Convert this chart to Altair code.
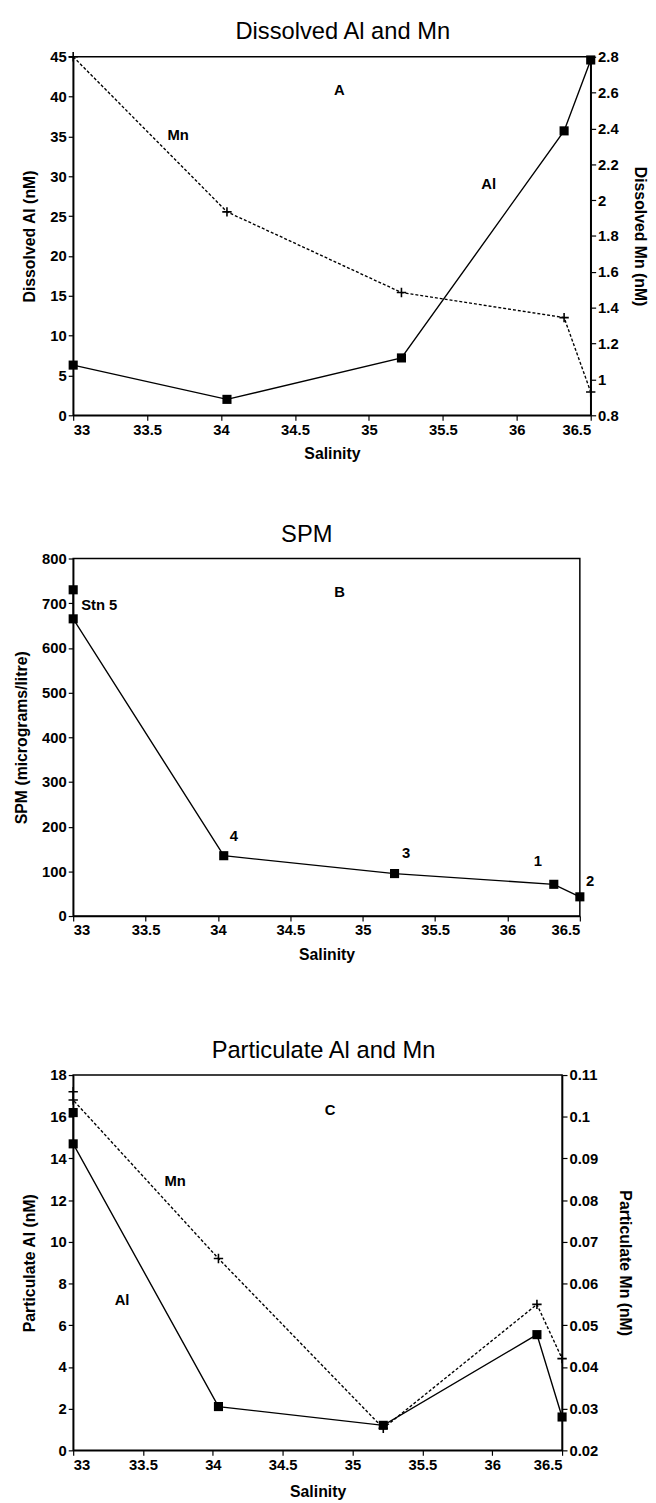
import altair as alt
import pandas as pd

FONT = "Liberation Sans"

# ---------------- data ----------------
# Panel A: dissolved Al and Mn
a_sal = [33.0, 34.04, 35.22, 36.32, 36.5]
a_al = [6.3, 2.0, 7.2, 35.7, 44.6]
a_mn = [2.8, 1.935, 1.485, 1.345, 0.93]

# Panel B: SPM
b_sal = [33.0, 33.0, 34.04, 35.22, 36.32, 36.5]
b_spm = [730, 665, 135, 95, 71, 43]

# Panel C: particulate Al and Mn
c_sal = [33.0, 33.0, 34.04, 35.22, 36.32, 36.5]
c_al = [16.2, 14.7, 2.1, 1.2, 5.55, 1.6]
c_mn = [0.106, 0.104, 0.066, 0.0253, 0.055, 0.042]

# annotation labels (text, salinity, y on left scale)
a_lab_text = ["A", "Mn", "Al"]
a_lab_x = [34.80, 33.71, 35.81]
a_lab_y = [40.8, 35.2, 29.0]

b_lab_text = ["B", "Stn 5", "4", "3", "1", "2"]
b_lab_x = [34.84, 33.18, 34.11, 35.30, 36.21, 36.57]
b_lab_y = [725, 696, 179, 141, 123, 79]

c_lab_text = ["C", "Mn", "Al"]
c_lab_x = [34.84, 33.73, 33.35]
c_lab_y = [16.3, 12.9, 7.2]

x_ticks = [33, 33.5, 34, 34.5, 35, 35.5, 36, 36.5]
a_left_ticks = list(range(0, 50, 5))
a_right_ticks = [0.8, 1.0, 1.2, 1.4, 1.6, 1.8, 2.0, 2.2, 2.4, 2.6, 2.8]
b_left_ticks = list(range(0, 900, 100))
c_left_ticks = list(range(0, 20, 2))
c_right_ticks = [0.02, 0.03, 0.04, 0.05, 0.06, 0.07, 0.08, 0.09, 0.10, 0.11]

PLUS = "M-1,0H1M0,-1V1"
LBL = "format(datum.value, '.2~f')"


def xenc(title_pad):
    return alt.X(
        "sal:Q",
        scale=alt.Scale(domain=[33, 36.5], nice=False, zero=False),
        axis=alt.Axis(values=x_ticks, title="Salinity", labelExpr=LBL,
                      titlePadding=title_pad),
    )


def yenc(field, domain, ticks, title, orient, title_pad):
    return alt.Y(
        f"{field}:Q",
        scale=alt.Scale(domain=domain, nice=False, zero=False),
        axis=alt.Axis(values=ticks, title=title, orient=orient, labelExpr=LBL,
                      titlePadding=title_pad),
    )


def solid_series(df, field, domain, ticks, title, xpad, ypad):
    base = alt.Chart(df).encode(
        x=xenc(xpad),
        y=yenc(field, domain, ticks, title, "left", ypad),
        order="i:O",
    )
    line = base.mark_line(color="black", strokeWidth=1.4)
    pts = base.mark_point(shape="square", filled=True, color="black", size=85, opacity=1)
    return line + pts


def dashed_series(df, field, domain, ticks, title, xpad, ypad):
    base = alt.Chart(df).encode(
        x=xenc(xpad),
        y=yenc(field, domain, ticks, title, "right", ypad),
        order="i:O",
    )
    line = base.mark_line(color="black", strokeWidth=1.4, strokeDash=[3, 2])
    pts = base.mark_point(shape=PLUS, filled=False, color="black", size=90,
                          strokeWidth=1.6, opacity=1)
    return line + pts


def labels(texts, xs, ys, field, domain, ticks, title, xpad, ypad, align="center"):
    df = pd.DataFrame({"t": texts, "sal": xs, field: ys})
    return alt.Chart(df).mark_text(
        font=FONT, fontSize=15, fontWeight="bold", color="black", align=align,
        baseline="middle",
    ).encode(
        x=xenc(xpad),
        y=yenc(field, domain, ticks, title, "left", ypad),
        text="t:N",
    )


# ---------------- panel A ----------------
dfa_al = pd.DataFrame({"sal": a_sal, "v": a_al, "i": range(len(a_sal))})
dfa_mn = pd.DataFrame({"sal": a_sal, "m": a_mn, "i": range(len(a_sal))})
A_left = alt.layer(
    solid_series(dfa_al, "v", [0, 45], a_left_ticks, "Dissolved Al (nM)", 9, 12),
    labels(a_lab_text, a_lab_x, a_lab_y, "v", [0, 45], a_left_ticks,
           "Dissolved Al (nM)", 9, 12),
)
A_right = dashed_series(dfa_mn, "m", [0.8, 2.8], a_right_ticks, "Dissolved Mn (nM)", 9, 13)
panelA = alt.layer(A_left, A_right).resolve_scale(y="independent").properties(
    width=524, height=363,
    title=alt.TitleParams("Dissolved Al and Mn", dx=11),
)

# ---------------- panel B ----------------
dfb = pd.DataFrame({"sal": b_sal, "v": b_spm, "i": range(len(b_sal))})
B_main = solid_series(dfb, "v", [0, 800], b_left_ticks, "SPM (micrograms/litre)", 9, 12)
B_lab = labels(b_lab_text, b_lab_x, b_lab_y, "v", [0, 800], b_left_ticks,
               "SPM (micrograms/litre)", 9, 12)
panelB = alt.layer(B_main, B_lab).properties(
    width=513, height=362,
    title=alt.TitleParams("SPM", dx=-20),
)

# ---------------- panel C ----------------
dfc_al = pd.DataFrame({"sal": c_sal, "v": c_al, "i": range(len(c_sal))})
dfc_mn = pd.DataFrame({"sal": c_sal, "m": c_mn, "i": range(len(c_sal))})
C_left = alt.layer(
    solid_series(dfc_al, "v", [0, 18], c_left_ticks, "Particulate Al (nM)", 12, 12),
    labels(c_lab_text, c_lab_x, c_lab_y, "v", [0, 18], c_left_ticks,
           "Particulate Al (nM)", 12, 12),
)
C_right = dashed_series(dfc_mn, "m", [0.02, 0.11], c_right_ticks,
                        "Particulate Mn (nM)", 12, 19)
panelC = alt.layer(C_left, C_right).resolve_scale(y="independent").properties(
    width=495, height=380,
    title=alt.TitleParams("Particulate Al and Mn", dx=6),
)

top = alt.vconcat(panelA, panelB, spacing=60)
chart = alt.vconcat(top, panelC, spacing=76).properties(
    padding={"left": 5, "top": 2, "right": 0, "bottom": 0},
    background="white",
).configure_axis(
    labelFont=FONT, labelFontSize=15, labelFontWeight="bold", labelColor="black",
    titleFont=FONT, titleFontSize=16, titleFontWeight="bold", titleColor="black",
    domainColor="black", domainWidth=1.5, tickColor="black", tickWidth=1.2,
    tickSize=5, labelPadding=2, grid=False,
).configure_title(
    font=FONT, fontSize=24, fontWeight="normal", color="black", anchor="middle",
    offset=5,
).configure_view(
    stroke="black", strokeWidth=1.5,
)

chart.save("out.html", embed_options={"renderer": "svg", "actions": False})
